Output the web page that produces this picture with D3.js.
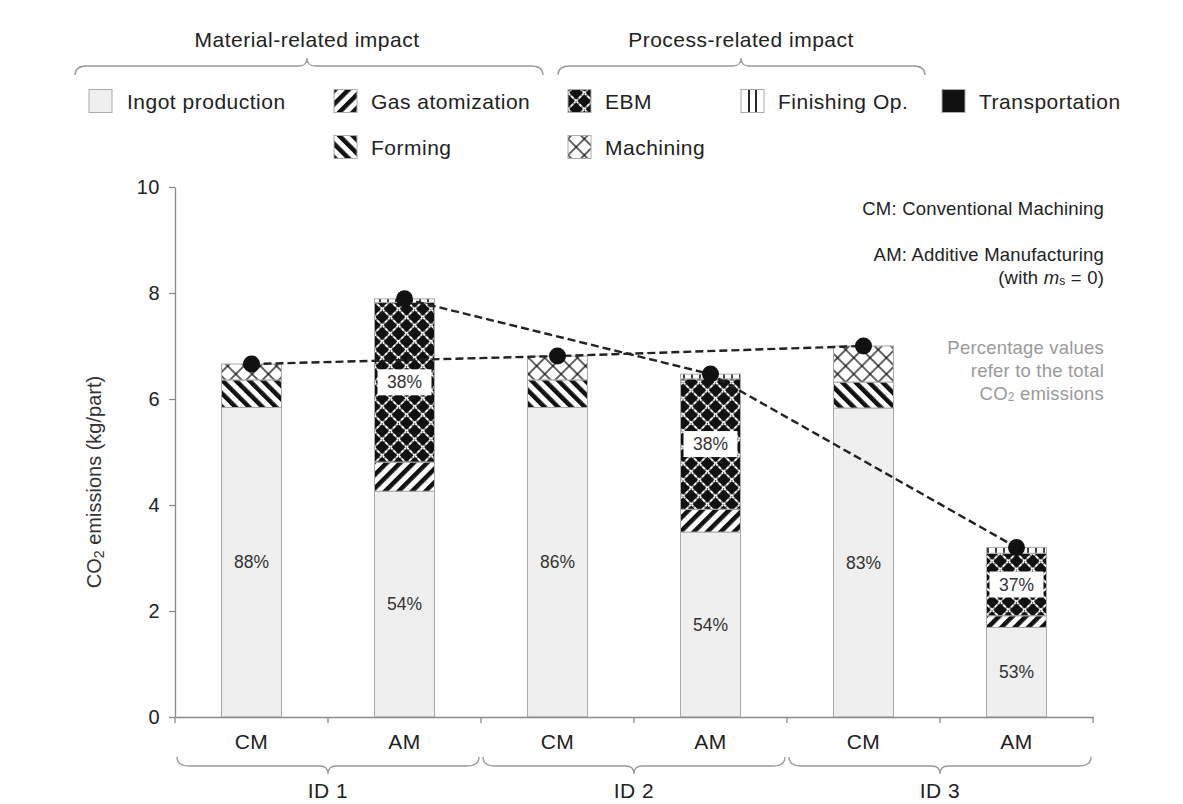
<!DOCTYPE html>
<html><head><meta charset="utf-8">
<script src="https://cdn.jsdelivr.net/npm/d3@7"></script>
<style>
body{margin:0;background:#fff;}
text{font-family:"Liberation Sans",Arial,sans-serif;}
</style></head>
<body>
<svg id="chart" width="1183" height="804"></svg>
<script>
// ---------- data ----------
const categories = ["CM","AM","CM","AM","CM","AM"];
const groups = ["ID 1","ID 1","ID 2","ID 2","ID 3","ID 3"];
const groupNames = ["ID 1","ID 2","ID 3"];
const ingot          = [5.84, 4.26, 5.84, 3.49, 5.83, 1.69];
const gasAtomization = [0,    0.55, 0,    0.43, 0,    0.22];
const forming        = [0.52, 0,    0.52, 0,    0.49, 0   ];
const ebm            = [0,    3.01, 0,    2.46, 0,    1.18];
const machining      = [0.30, 0,    0.45, 0,    0.68, 0   ];
const finishing      = [0,    0.07, 0,    0.09, 0,    0.11];
const transportation = [0,    0,    0,    0,    0,    0   ];
const ingotPct = ["88%","54%","86%","54%","83%","53%"];
const ebmPct   = ["","38%","","38%","","37%"];
const yTicks = [0,2,4,6,8,10];
const seriesKeys = ["ingot","gas","forming","ebm","machining","finishing","transport"];
const seriesNames = {ingot:"Ingot production",gas:"Gas atomization",forming:"Forming",ebm:"EBM",machining:"Machining",finishing:"Finishing Op.",transport:"Transportation"};

const table = categories.map((c,i)=>({i, cat:c, group:groups[i],
  ingot:ingot[i], gas:gasAtomization[i], forming:forming[i], ebm:ebm[i],
  machining:machining[i], finishing:finishing[i], transport:transportation[i]}));

// ---------- setup ----------
const svg = d3.select("#chart");
const defs = svg.append("defs");
const TXT = "#222";
const BIG = 21, LS = 0.5;

// patterns
function stripes(id, angle){
  const p = defs.append("pattern").attr("id",id).attr("patternUnits","userSpaceOnUse")
    .attr("width",9.5).attr("height",9.5).attr("patternTransform",`rotate(${angle})`);
  p.append("rect").attr("width",9.5).attr("height",9.5).attr("fill","#fff");
  p.append("rect").attr("x",0).attr("width",4.5).attr("height",9.5).attr("fill","#111");
}
stripes("pGas",45);
stripes("pForm",-45);
function cross(id,bg,fg,sw,dash){
  const s=11.5;
  const p = defs.append("pattern").attr("id",id).attr("patternUnits","userSpaceOnUse")
    .attr("width",s).attr("height",s).attr("patternTransform","rotate(45)");
  p.append("rect").attr("width",s).attr("height",s).attr("fill",bg);
  p.append("line").attr("x1",0).attr("x2",s).attr("y1",s/2).attr("y2",s/2)
    .attr("stroke",fg).attr("stroke-width",sw).attr("stroke-dasharray",dash);
  p.append("line").attr("y1",0).attr("y2",s).attr("x1",s/2).attr("x2",s/2)
    .attr("stroke",fg).attr("stroke-width",sw).attr("stroke-dasharray",dash);
}
cross("pEbm","#111","#fff",1.8,"2.4,0.9");
cross("pMach","#fff","#111",1.3,null);
(function(){
  const p = defs.append("pattern").attr("id","pFin").attr("patternUnits","userSpaceOnUse")
    .attr("width",8).attr("height",8);
  p.append("rect").attr("width",8).attr("height",8).attr("fill","#fff");
  p.append("line").attr("x1",4).attr("x2",4).attr("y1",0).attr("y2",8).attr("stroke","#111").attr("stroke-width",1.6);
})();
const fills = {ingot:"#efefef",gas:"url(#pGas)",forming:"url(#pForm)",ebm:"url(#pEbm)",
  machining:"url(#pMach)",finishing:"url(#pFin)",transport:"#111"};

// scales
const y = d3.scaleLinear().domain([0,10]).range([717,187]);
const x = d3.scaleBand().domain(d3.range(categories.length)).range([175,1093])
  .paddingInner(0.608).paddingOuter(0.304);
const step = x.step();

// ---------- axes ----------
const yAxis = svg.append("g").attr("transform",`translate(${x.range()[0]},0)`)
  .call(d3.axisLeft(y).tickValues(yTicks).tickSize(6).tickSizeOuter(0).tickPadding(9));
yAxis.select(".domain").attr("stroke","#8a8a8a").attr("stroke-width",1.3);
yAxis.selectAll(".tick line").attr("stroke","#8a8a8a").attr("stroke-width",1.3);
yAxis.selectAll(".tick text").attr("font-size",20).attr("fill",TXT).attr("letter-spacing",0.5)
  .attr("font-family","Liberation Sans, Arial, sans-serif");

// bars
const stack = d3.stack().keys(seriesKeys)(table);
svg.append("g").selectAll("g").data(stack).join("g")
  .attr("fill",d=>fills[d.key])
  .selectAll("rect").data(d=>d.filter(s=>s[1]-s[0]>0)).join("rect")
  .attr("x",d=>x(d.data.i)).attr("width",x.bandwidth())
  .attr("y",d=>y(d[1])).attr("height",d=>y(d[0])-y(d[1]))
  .attr("stroke","#aaa").attr("stroke-width",1);

// x axis
const xAxis = svg.append("g").attr("transform",`translate(0,${y(0)})`)
  .call(d3.axisBottom(x).tickSize(0).tickSizeOuter(0).tickPadding(17).tickFormat(i=>categories[i]));
xAxis.select(".domain").attr("stroke","#8a8a8a").attr("stroke-width",1.3);
xAxis.selectAll(".tick text").attr("font-size",BIG).attr("fill",TXT).attr("letter-spacing",LS)
  .attr("font-family","Liberation Sans, Arial, sans-serif");
const bounds = d3.range(categories.length+1).map(k=>x.range()[0]+k*step);
svg.append("g").selectAll("line").data(bounds).join("line")
  .attr("x1",d=>d).attr("x2",d=>d).attr("y1",y(0)).attr("y2",y(0)+6)
  .attr("stroke","#8a8a8a").attr("stroke-width",1.3);

// percentage labels
const totals = table.map(d=>seriesKeys.reduce((a,k)=>a+d[k],0));
svg.append("g").selectAll("text").data(table).join("text")
  .attr("x",d=>x(d.i)+x.bandwidth()/2).attr("y",d=>y(d.ingot/2))
  .attr("text-anchor","middle").attr("dominant-baseline","central")
  .attr("font-size",17.5).attr("fill","#333").text(d=>ingotPct[d.i]);
const ebmLab = svg.append("g").selectAll("g").data(table.filter(d=>ebmPct[d.i])).join("g")
  .attr("transform",d=>{
    const base = d.ingot+d.gas+d.forming;
    return `translate(${x(d.i)+x.bandwidth()/2},${y(base+d.ebm/2)})`;});
ebmLab.append("rect").attr("x",-27).attr("y",-13).attr("width",54).attr("height",26).attr("fill","#fff");
ebmLab.append("text").attr("text-anchor","middle").attr("dominant-baseline","central")
  .attr("font-size",17.5).attr("fill","#333").text(d=>ebmPct[d.i]);

// dashed total lines + dots
const line = d3.line().x(d=>x(d.i)+x.bandwidth()/2).y(d=>y(totals[d.i]));
["CM","AM"].forEach(c=>{
  const pts = table.filter(d=>d.cat===c);
  svg.append("path").datum(pts).attr("d",line).attr("fill","none")
    .attr("stroke","#222").attr("stroke-width",2.4).attr("stroke-dasharray","8,4");
});
svg.append("g").selectAll("circle").data(table).join("circle")
  .attr("cx",d=>x(d.i)+x.bandwidth()/2).attr("cy",d=>y(totals[d.i])).attr("r",8.5).attr("fill","#111");

// ---------- braces ----------
function brace(x0,x1,xt,yl,yEnd,yTip){
  return `M${x0},${yEnd} Q${x0},${yl} ${x0+12},${yl} L${xt-8},${yl} Q${xt},${yl} ${xt},${yTip} Q${xt},${yl} ${xt+8},${yl} L${x1-12},${yl} Q${x1},${yl} ${x1},${yEnd}`;
}
svg.append("path").attr("d",brace(75,543,307,66,75,58)).attr("fill","none").attr("stroke","#999").attr("stroke-width",1.3);
svg.append("path").attr("d",brace(558,925,741,66,75,58)).attr("fill","none").attr("stroke","#999").attr("stroke-width",1.3);
svg.append("text").attr("x",307).attr("y",39).attr("text-anchor","middle").attr("dominant-baseline","central")
  .attr("font-size",BIG).attr("letter-spacing",LS).attr("fill",TXT).text("Material-related impact");
svg.append("text").attr("x",741).attr("y",39).attr("text-anchor","middle").attr("dominant-baseline","central")
  .attr("font-size",BIG).attr("letter-spacing",LS).attr("fill",TXT).text("Process-related impact");

// bottom group braces
groupNames.forEach((g,k)=>{
  const x0 = bounds[2*k], x1 = bounds[2*k+2], xt = (x0+x1)/2;
  svg.append("path").attr("d",brace(x0+2,x1-2,xt,766,757,774)).attr("fill","none")
    .attr("stroke","#999").attr("stroke-width",1.3);
  svg.append("text").attr("x",xt).attr("y",790).attr("text-anchor","middle").attr("dominant-baseline","central")
    .attr("font-size",BIG).attr("letter-spacing",LS).attr("fill",TXT).text(g);
});

// ---------- legend ----------
const legendPos = [
  {k:"ingot",x:89,y:101},{k:"gas",x:334,y:101},{k:"ebm",x:568,y:101},
  {k:"finishing",x:741,y:101},{k:"transport",x:942,y:101},
  {k:"forming",x:334,y:147},{k:"machining",x:568,y:147}];
const lg = svg.append("g").selectAll("g").data(legendPos).join("g")
  .attr("transform",d=>`translate(${d.x},${d.y})`);
lg.append("rect").attr("x",0).attr("y",-11.5).attr("width",23).attr("height",23)
  .attr("fill",d=>d.k==="finishing"?"#fff":fills[d.k]).attr("stroke","#aaa").attr("stroke-width",1);
lg.filter(d=>d.k==="finishing").each(function(){
  const g=d3.select(this);
  [8,15].forEach(v=>g.append("line").attr("x1",v).attr("x2",v).attr("y1",-11).attr("y2",11).attr("stroke","#111").attr("stroke-width",1.8));
});
lg.append("text").attr("x",d=>d.k==="ingot"?38:37).attr("y",0).attr("dominant-baseline","central")
  .attr("font-size",BIG).attr("letter-spacing",LS).attr("fill",TXT).text(d=>seriesNames[d.k]);

// ---------- y label ----------
const yl = svg.append("text").attr("transform","translate(94,482) rotate(-90)")
  .attr("text-anchor","middle").attr("dominant-baseline","central").attr("font-size",20).attr("fill","#333");
yl.append("tspan").text("CO");
yl.append("tspan").attr("font-size",14).attr("dy",5).text("2");
yl.append("tspan").attr("dy",-5).text(" emissions (kg/part)");

// ---------- annotations ----------
const ax = 1104, AF = 18.5, ALS = 0.2;
svg.append("text").attr("x",ax).attr("y",208).attr("text-anchor","end").attr("dominant-baseline","central")
  .attr("font-size",AF).attr("letter-spacing",ALS).attr("fill",TXT).text("CM: Conventional Machining");
svg.append("text").attr("x",ax).attr("y",254).attr("text-anchor","end").attr("dominant-baseline","central")
  .attr("font-size",AF).attr("letter-spacing",ALS).attr("fill",TXT).text("AM: Additive Manufacturing");
const w = svg.append("text").attr("x",ax).attr("y",277).attr("text-anchor","end").attr("dominant-baseline","central")
  .attr("font-size",AF).attr("letter-spacing",ALS).attr("fill",TXT);
w.append("tspan").text("(with ");
w.append("tspan").attr("font-style","italic").text("m");
w.append("tspan").attr("font-size",12).attr("dy",4).text("s");
w.append("tspan").attr("dy",-4).text(" = 0)");
const gray="#9a9a9a";
svg.append("text").attr("x",ax).attr("y",347).attr("text-anchor","end").attr("dominant-baseline","central")
  .attr("font-size",AF).attr("letter-spacing",ALS).attr("fill",gray).text("Percentage values");
svg.append("text").attr("x",ax).attr("y",370).attr("text-anchor","end").attr("dominant-baseline","central")
  .attr("font-size",AF).attr("letter-spacing",ALS).attr("fill",gray).text("refer to the total");
const co = svg.append("text").attr("x",ax).attr("y",393).attr("text-anchor","end").attr("dominant-baseline","central")
  .attr("font-size",AF).attr("letter-spacing",ALS).attr("fill",gray);
co.append("tspan").text("CO");
co.append("tspan").attr("font-size",12).attr("dy",4).text("2");
co.append("tspan").attr("dy",-4).text(" emissions");
</script>
</body></html>
